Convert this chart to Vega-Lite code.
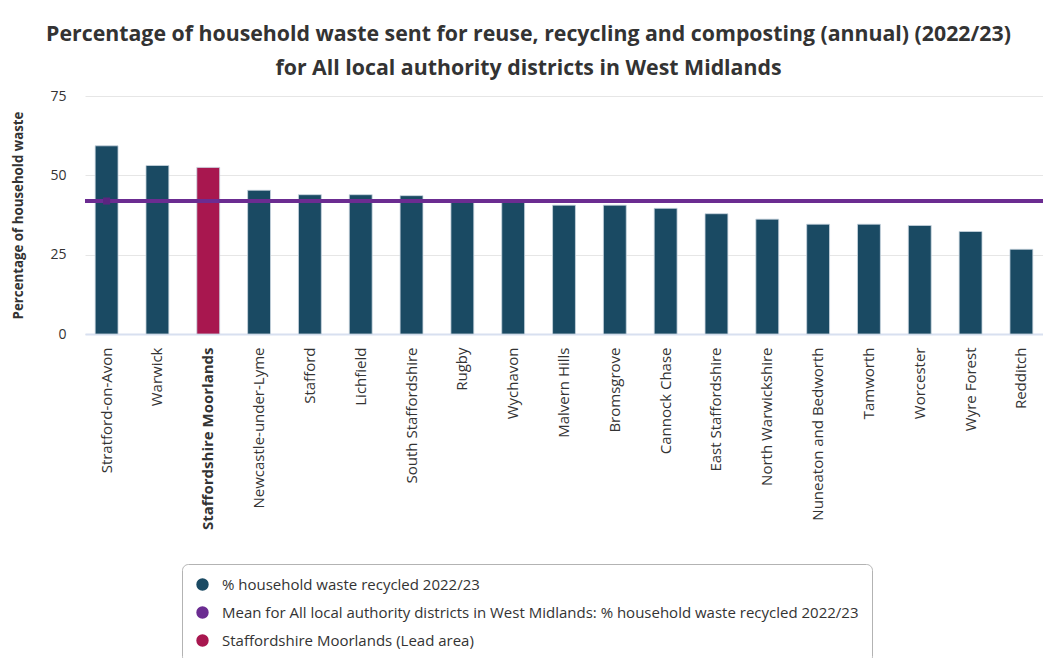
{
  "$schema": "https://vega.github.io/schema/vega-lite/v6.json",
  "width": 958,
  "height": 238,
  "autosize": "none",
  "padding": {"left": 85, "top": 96, "right": 0, "bottom": 324},
  "background": "white",
  "config": {
    "font": "Open Sans",
    "view": {"stroke": null}
  },
  "title": {
    "text": ["Percentage of household waste sent for reuse, recycling and composting (annual) (2022/23)", "for All local authority districts in West Midlands"],
    "font": "Open Sans",
    "fontSize": 21.3,
    "fontWeight": "bold",
    "color": "#333333",
    "lineHeight": 34,
    "anchor": "middle",
    "frame": "bounds",
    "offset": 10
  },
  "datasets": {
    "bars": [
      {"area": "Stratford-on-Avon", "value": 59.3, "series": "% household waste recycled 2022/23"},
      {"area": "Warwick", "value": 53.1, "series": "% household waste recycled 2022/23"},
      {"area": "Staffordshire Moorlands", "value": 52.5, "series": "Staffordshire Moorlands (Lead area)"},
      {"area": "Newcastle-under-Lyme", "value": 45.3, "series": "% household waste recycled 2022/23"},
      {"area": "Stafford", "value": 43.9, "series": "% household waste recycled 2022/23"},
      {"area": "Lichfield", "value": 43.9, "series": "% household waste recycled 2022/23"},
      {"area": "South Staffordshire", "value": 43.6, "series": "% household waste recycled 2022/23"},
      {"area": "Rugby", "value": 41.9, "series": "% household waste recycled 2022/23"},
      {"area": "Wychavon", "value": 41.7, "series": "% household waste recycled 2022/23"},
      {"area": "Malvern Hills", "value": 40.6, "series": "% household waste recycled 2022/23"},
      {"area": "Bromsgrove", "value": 40.6, "series": "% household waste recycled 2022/23"},
      {"area": "Cannock Chase", "value": 39.6, "series": "% household waste recycled 2022/23"},
      {"area": "East Staffordshire", "value": 37.9, "series": "% household waste recycled 2022/23"},
      {"area": "North Warwickshire", "value": 36.2, "series": "% household waste recycled 2022/23"},
      {"area": "Nuneaton and Bedworth", "value": 34.6, "series": "% household waste recycled 2022/23"},
      {"area": "Tamworth", "value": 34.6, "series": "% household waste recycled 2022/23"},
      {"area": "Worcester", "value": 34.2, "series": "% household waste recycled 2022/23"},
      {"area": "Wyre Forest", "value": 32.3, "series": "% household waste recycled 2022/23"},
      {"area": "Redditch", "value": 26.7, "series": "% household waste recycled 2022/23"}
    ],
    "mean": [
      {"area": "Stratford-on-Avon", "value": 41.9, "series": "Mean for All local authority districts in West Midlands: % household waste recycled 2022/23"}
    ]
  },
  "layer": [
    {
      "data": {"name": "bars"},
      "mark": {"type": "bar", "stroke": "#c9d6df", "strokeWidth": 0.8},
      "encoding": {
        "x": {
          "field": "area",
          "type": "nominal",
          "sort": null,
          "scale": {"paddingInner": 0.55, "paddingOuter": 0.2},
          "axis": {
            "title": null,
            "labelAngle": -90,
            "labelFontSize": 15,
            "labelColor": "#333333",
            "labelPadding": 13,
            "labelLimit": 300,
            "labelFontWeight": {"expr": "datum.value == 'Staffordshire Moorlands' ? 'bold' : 'normal'"},
            "ticks": false,
            "domainColor": "#d8e0f0",
            "domainWidth": 2,
            "grid": false
          }
        },
        "y": {
          "field": "value",
          "type": "quantitative",
          "scale": {"domain": [0, 75], "nice": false},
          "axis": {
            "title": "Percentage of household waste",
            "titleFontSize": 13.3,
            "titleFontWeight": "bold",
            "titleColor": "#333333",
            "titlePadding": 24,
            "values": [0, 25, 50, 75],
            "labelFontSize": 14,
            "labelColor": "#333333",
            "labelPadding": 19,
            "domain": false,
            "ticks": false,
            "gridColor": "#e6e6e6"
          }
        },
        "color": {
          "field": "series",
          "type": "nominal",
          "scale": {
            "domain": ["% household waste recycled 2022/23", "Mean for All local authority districts in West Midlands: % household waste recycled 2022/23", "Staffordshire Moorlands (Lead area)"],
            "range": ["#1a4a63", "#6b2c91", "#a8174f"]
          },
          "legend": {
            "title": null,
            "orient": "none",
            "legendX": 97,
            "legendY": 468,
            "direction": "vertical",
            "labelFontSize": 15,
            "labelColor": "#333333",
            "labelLimit": 900,
            "labelOffset": 12,
            "rowPadding": 12,
            "padding": 13,
            "strokeColor": "#b3b3b3",
            "cornerRadius": 6,
            "symbolType": "circle",
            "symbolSize": 154,
            "symbolStrokeWidth": 0,
            "symbolOpacity": 1
          }
        }
      }
    },
    {
      "data": {"name": "mean"},
      "mark": {"type": "rule", "strokeWidth": 4},
      "encoding": {
        "y": {"field": "value", "type": "quantitative"},
        "color": {"field": "series", "type": "nominal"}
      }
    },
    {
      "data": {"name": "mean"},
      "mark": {"type": "point", "shape": "square", "filled": true, "size": 50, "color": "#5c2580", "opacity": 1},
      "encoding": {
        "x": {"field": "area", "type": "nominal", "sort": null},
        "y": {"field": "value", "type": "quantitative"}
      }
    }
  ]
}
